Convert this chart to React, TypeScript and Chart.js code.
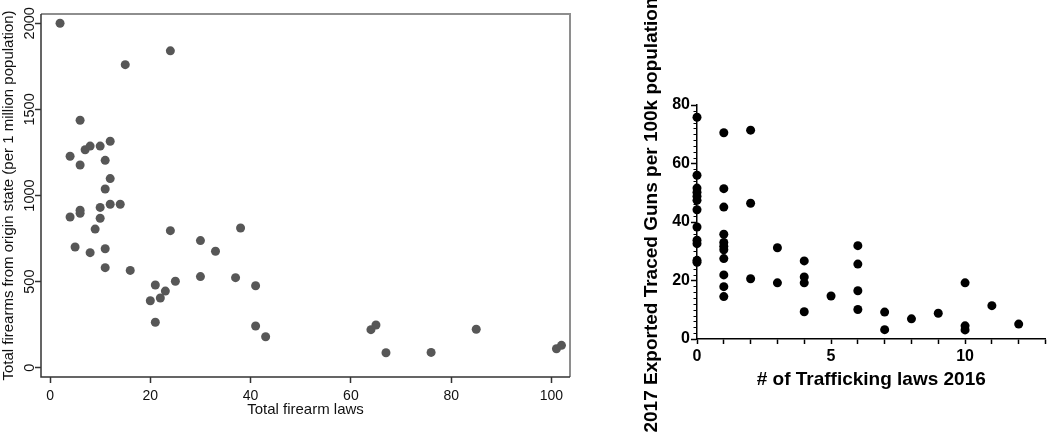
import React, { useEffect, useRef } from "react";
import { Chart, registerables } from "chart.js";

Chart.register(...registerables);

const FONT = "'Liberation Sans', Arial, Helvetica, sans-serif";

// Left chart: total firearm laws vs firearms exported (per 1 million population)
const totalFirearmLaws = [
  2, 24, 15, 6, 4, 6, 7, 8, 10, 12, 11, 12, 11, 12, 14, 10, 6, 6, 4, 10,
  9, 24, 38, 30, 5, 8, 11, 33, 11, 16, 25, 30, 37, 41, 21, 23, 22, 20, 21, 41,
  43, 64, 65, 67, 76, 85, 101, 102,
];
const firearmsPerMillion = [
  2000, 1840, 1760, 1437, 1228, 1177, 1266, 1287, 1287, 1315, 1204, 1098, 1038, 949, 949, 931, 915, 897, 875, 868,
  805, 796, 811, 738, 701, 668, 691, 676, 581, 565, 502, 529, 523, 476, 480, 445, 405, 389, 264, 242,
  180, 221, 248, 87, 89, 223, 110, 130,
];
const leftXTicks = [0, 20, 40, 60, 80, 100];
const leftYTicks = [0, 500, 1000, 1500, 2000];

// Right chart: # of trafficking laws 2016 vs exported traced guns per 100k
const traffickingLaws = [
  0, 0, 0, 0, 0, 0, 0, 0, 0, 0, 0, 0,
  1, 1, 1, 1, 1, 1, 1, 1, 1, 1, 1,
  2, 2, 2,
  3, 3,
  4, 4, 4, 4,
  5,
  6, 6, 6, 6,
  7, 7,
  8,
  9,
  10, 10, 10,
  11,
  12,
];
const tracedGunsPer100k = [
  75.8, 56.0, 51.6, 50.2, 48.8, 47.4, 44.2, 38.3, 33.8, 32.6, 26.9, 26.2,
  70.5, 51.4, 45.1, 35.8, 33.0, 31.7, 30.5, 27.5, 21.9, 17.9, 14.5,
  71.4, 46.4, 20.6,
  31.2, 19.2,
  26.7, 21.2, 19.2, 9.3,
  14.7,
  31.9, 25.6, 16.5, 10.1,
  9.2, 3.2,
  6.9,
  8.8,
  19.2, 4.5, 3.1,
  11.4,
  5.1,
];
const rightXLabelTicks = [0, 5, 10];
const rightYMajorTicks = [0, 20, 40, 60, 80];
const rightYMinorStep = 2;

function LeftChart() {
  const ref = useRef<HTMLCanvasElement>(null);
  useEffect(() => {
    if (!ref.current) return;
    const framePlugin = {
      id: "frame",
      afterDraw(chart: any) {
        const { ctx, chartArea } = chart;
        const { left, right, top, bottom } = chartArea;
        ctx.save();
        ctx.strokeStyle = "#8e8e8e";
        ctx.lineWidth = 2;
        ctx.beginPath();
        ctx.moveTo(left, top);
        ctx.lineTo(right, top);
        ctx.lineTo(right, bottom);
        ctx.stroke();
        ctx.strokeStyle = "#333333";
        ctx.lineWidth = 1.5;
        ctx.beginPath();
        ctx.moveTo(left, top);
        ctx.lineTo(left, bottom);
        ctx.lineTo(right, bottom);
        ctx.stroke();
        // rotated y tick labels
        const ys = chart.scales.y;
        ctx.fillStyle = "#111111";
        ctx.font = `14.5px ${FONT}`;
        ctx.textAlign = "center";
        ctx.textBaseline = "alphabetic";
        for (const v of leftYTicks) {
          const py = ys.getPixelForValue(v);
          ctx.save();
          ctx.translate(33.5, py);
          ctx.rotate(-Math.PI / 2);
          ctx.fillText(String(v), 0, 0);
          ctx.restore();
        }
        ctx.restore();
      },
    };
    const chart = new Chart(ref.current, {
      type: "scatter",
      data: {
        datasets: [
          {
            data: totalFirearmLaws.map((x, i) => ({ x, y: firearmsPerMillion[i] })),
            backgroundColor: "#575757",
            borderWidth: 0,
            pointRadius: 4.5,
            clip: false,
          } as any,
        ],
      },
      options: {
        animation: false,
        responsive: false,
        layout: { padding: { top: 14, right: 20, left: 0, bottom: 0 } },
        plugins: { legend: { display: false }, tooltip: { enabled: false } },
        scales: {
          x: {
            type: "linear",
            min: -1.8,
            max: 103.7,
            afterBuildTicks: (s: any) => {
              s.ticks = leftXTicks.map((v) => ({ value: v }));
            },
            grid: { drawOnChartArea: false, tickLength: 6, tickColor: "#333", tickWidth: 1.5 },
            border: { display: false },
            ticks: { font: { family: FONT, size: 14 }, color: "#111", padding: 4.5, maxRotation: 0 },
            title: {
              display: true,
              text: "Total firearm laws",
              font: { family: FONT, size: 15 },
              color: "#111",
              padding: { top: 0, bottom: 15 },
            },
            afterFit: (s: any) => {
              s.height = 57;
            },
          },
          y: {
            type: "linear",
            min: -54,
            max: 2054,
            afterBuildTicks: (s: any) => {
              s.ticks = leftYTicks.map((v) => ({ value: v }));
            },
            grid: { drawOnChartArea: false, tickLength: 6, tickColor: "#333", tickWidth: 1.5 },
            border: { display: false },
            ticks: { display: false },
            title: {
              display: true,
              text: "Total firearms from origin state (per 1 million population)",
              font: { family: FONT, size: 15 },
              color: "#111",
              padding: { top: 0, bottom: 0 },
            },
            afterFit: (s: any) => {
              s.width = 41;
            },
          },
        },
      } as any,
      plugins: [framePlugin],
    });
    return () => chart.destroy();
  }, []);
  return (
    <canvas
      ref={ref}
      width={590}
      height={434}
      style={{ position: "absolute", left: 0, top: 0, width: 590, height: 434, display: "block" }}
    />
  );
}

function RightChart() {
  const ref = useRef<HTMLCanvasElement>(null);
  useEffect(() => {
    if (!ref.current) return;
    const extras = {
      id: "extras",
      afterDraw(chart: any) {
        const { ctx } = chart;
        const ys = chart.scales.y;
        const axisX = chart.chartArea.left;
        ctx.save();
        ctx.strokeStyle = "#000";
        ctx.lineWidth = 1;
        for (let v = ys.min; v <= ys.max; v += rightYMinorStep) {
          if (rightYMajorTicks.includes(v)) continue;
          const py = Math.round(ys.getPixelForValue(v)) + 0.5;
          ctx.beginPath();
          ctx.moveTo(axisX - 3.5, py);
          ctx.lineTo(axisX, py);
          ctx.stroke();
        }
        ctx.fillStyle = "#000";
        ctx.font = `bold 19px ${FONT}`;
        ctx.textAlign = "center";
        ctx.textBaseline = "middle";
        ctx.translate(61.5, 215);
        ctx.rotate(-Math.PI / 2);
        ctx.fillText("2017 Exported Traced Guns per 100k population", 0, 0);
        ctx.restore();
      },
    };
    const chart = new Chart(ref.current, {
      type: "scatter",
      data: {
        datasets: [
          {
            data: traffickingLaws.map((x, i) => ({ x, y: tracedGunsPer100k[i] })),
            backgroundColor: "#000",
            borderWidth: 0,
            pointRadius: 4.5,
            clip: false,
          } as any,
        ],
      },
      options: {
        animation: false,
        responsive: false,
        layout: { padding: { top: 105, right: 1, left: 0, bottom: 0 } },
        plugins: { legend: { display: false }, tooltip: { enabled: false } },
        scales: {
          x: {
            type: "linear",
            min: 0,
            max: 13,
            ticks: {
              stepSize: 1,
              autoSkip: false,
              maxRotation: 0,
              callback: (v: any) => (rightXLabelTicks.includes(v) ? String(v) : ""),
              font: { family: FONT, size: 16, weight: "bold" },
              color: "#000",
              padding: 2.5,
            },
            grid: { drawOnChartArea: false, tickLength: 5, tickColor: "#000", tickWidth: 1.5 },
            border: { display: true, color: "#000", width: 1.5 },
            title: {
              display: true,
              text: "# of Trafficking laws 2016",
              font: { family: FONT, size: 19, weight: "bold" },
              color: "#000",
              padding: { top: 0, bottom: 43 },
            },
            afterFit: (s: any) => {
              s.height = 95;
            },
          },
          y: {
            type: "linear",
            min: 0,
            max: 80,
            afterBuildTicks: (s: any) => {
              s.ticks = rightYMajorTicks.map((v) => ({ value: v }));
            },
            ticks: {
              font: { family: FONT, size: 16, weight: "bold" },
              color: "#000",
              padding: 1,
            },
            grid: { drawOnChartArea: false, tickLength: 6, tickColor: "#000", tickWidth: 1.5 },
            border: { display: true, color: "#000", width: 1.5 },
            afterFit: (s: any) => {
              s.width = 107;
            },
          },
        },
      } as any,
      plugins: [extras],
    });
    return () => chart.destroy();
  }, []);
  return (
    <canvas
      ref={ref}
      width={460}
      height={434}
      style={{ position: "absolute", left: 590, top: 0, width: 460, height: 434, display: "block" }}
    />
  );
}

export default function App() {
  return (
    <div style={{ position: "fixed", left: 0, top: 0, width: 1050, height: 434, background: "#fff", overflow: "hidden" }}>
      <LeftChart />
      <RightChart />
    </div>
  );
}
